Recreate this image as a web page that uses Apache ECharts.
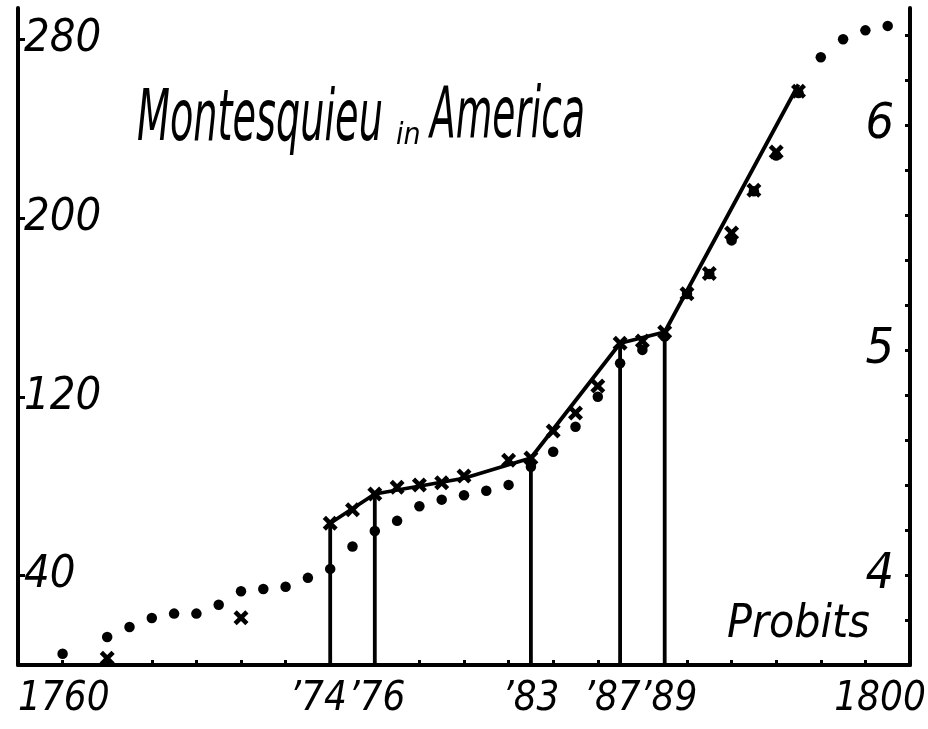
<!DOCTYPE html>
<html>
<head>
<meta charset="utf-8">
<script src="https://cdn.jsdelivr.net/npm/echarts@6/dist/echarts.min.js"></script>
<style>
html,body{margin:0;padding:0;background:#fff;}
#chart{width:928px;height:729px;}
</style>
</head>
<body>
<div id="chart"></div>
<script>
// ---- data ----
const dotYears  = [1762,1764,1765,1766,1767,1768,1769,1770,1771,1772,1773,1774,1775,1776,1777,1778,1779,1780,1781,1782,1783,1784,1785,1786,1787,1788,1789,1790,1791,1792,1793,1794,1795,1796,1797,1798,1799];
const dotValues = [5,12.5,17,21,23,23,27,33,34,35,39,43,53,60,64.5,71,74,76,78,80.6,88.7,95.4,106.6,120,135,141,147,166,175,190,212,228,256,272,280,284,286];

const crossYears  = [1764,1770,1774,1775,1776,1777,1778,1779,1780,1782,1783,1784,1785,1786,1787,1788,1789,1790,1791,1792,1793,1794,1795];
const crossProbit = [3.63,3.81,4.23,4.29,4.36,4.39,4.40,4.41,4.44,4.51,4.52,4.64,4.72,4.84,5.03,5.04,5.08,5.25,5.34,5.52,5.71,5.88,6.15];

const fitYears  = [1774,1776,1780,1783,1787,1789,1795];
const fitProbit = [4.23,4.36,4.43,4.52,5.03,5.08,6.18];

const markYears  = [1774,1776,1783,1787,1789];
const markProbit = [4.23,4.36,4.52,5.03,5.08];

const xLabelValues = [1760,1774,1776,1783,1787,1789,1800];
const xTickValues  = [1762,1764,1766,1768,1770,1772,1778,1780,1782,1784,1786,1790,1792,1794,1796,1798];
const leftLabelValues  = [40,120,200,280];
const rightLabelValues = [4,5,6];
const rightTickValues  = [3.8,4.0,4.2,4.4,4.6,4.8,5.0,5.2,5.4,5.6,5.8,6.0,6.2,6.4];

const titleMain = 'Montesquieu';
const titleIn = 'in';
const titleEnd = 'America';
const probitsText = 'Probits';

// ---- chart ----
const FONT = '"Liberation Sans Narrow", "DejaVu Sans Condensed", "Liberation Sans", sans-serif';
const INK = '#000';
const chart = echarts.init(document.getElementById('chart'), null, {renderer:'canvas'});

const xPath = 'path://M0,3 L3,0 L7,4 L11,0 L14,3 L10,7 L14,11 L11,14 L7,10 L3,14 L0,11 L4,7 Z';

const series = [];
markYears.forEach((yr, i) => {
  series.push({
    type: 'line', xAxisIndex: 0, yAxisIndex: 1,
    data: [[yr, 3.6], [yr, markProbit[i]]],
    symbol: 'none', silent: true, z: 2,
    lineStyle: {color: INK, width: 3.8}
  });
});
series.push({
  type: 'line', yAxisIndex: 1,
  data: fitYears.map((y, i) => [y, fitProbit[i]]),
  symbol: 'none', z: 3,
  lineStyle: {color: INK, width: 3.8}
});
series.push({
  type: 'scatter', yAxisIndex: 0,
  data: dotYears.map((y, i) => [y, dotValues[i]]),
  symbol: 'circle', symbolSize: 10.5, z: 4,
  itemStyle: {color: INK, opacity: 1}
});
series.push({
  type: 'scatter', yAxisIndex: 1,
  data: crossYears.map((y, i) => [y, crossProbit[i]]),
  symbol: xPath, symbolSize: 15, z: 5,
  itemStyle: {color: INK, opacity: 1}
});

const labelStyle = {color: INK, fontFamily: FONT, fontStyle: 'italic', fontWeight: 'normal', fontSize: 40};

const xShift = {1774: [0, 24, 0, 0], 1776: [0, 0, 0, 4], 1787: [0, 16, 0, 0], 1789: [0, 0, 0, 8], 1800: [0, 60, 0, 0]};
const xRich = {};
Object.keys(xShift).forEach(k => { xRich['s' + k] = {padding: xShift[k]}; });

chart.setOption({
  backgroundColor: '#fff',
  animation: false,
  graphic: [
    {type: 'text', x: 137, y: 121, scaleX: 0.59, silent: true,
     style: {text: titleMain, font: 'italic 72px ' + FONT, fill: INK, verticalAlign: 'middle'}},
    {type: 'text', x: 396, y: 136, silent: true,
     style: {text: titleIn, font: 'italic 30px ' + FONT, fill: INK, verticalAlign: 'middle'}},
    {type: 'text', x: 430, y: 118, scaleX: 0.58, silent: true,
     style: {text: titleEnd, font: 'italic 72px ' + FONT, fill: INK, verticalAlign: 'middle'}},
    {type: 'text', x: 727, y: 625, silent: true,
     style: {text: probitsText, font: 'italic 46px ' + FONT, fill: INK, verticalAlign: 'middle'}}
  ],
  grid: {left: 18, right: 18, top: 8, bottom: 64, containLabel: false, outerBoundsMode: 'none'},
  xAxis: {
    type: 'value', min: 1760, max: 1800,
    splitLine: {show: false},
    axisLine: {show: true, onZero: false, lineStyle: {color: INK, width: 4}},
    axisTick: {show: true, inside: true, length: 5, customValues: xTickValues, lineStyle: {color: INK, width: 3}},
    axisLabel: Object.assign({}, labelStyle, {
      customValues: xLabelValues, margin: 15,
      alignMinLabel: 'left', alignMaxLabel: 'center',
      rich: xRich,
      formatter: v => {
        const t = (v === 1760 || v === 1800) ? String(v) : '\u2019' + String(v).slice(2);
        return xShift[v] ? '{s' + v + '|' + t + '}' : t;
      }
    })
  },
  yAxis: [{
    type: 'value', position: 'left', min: 0, max: 294,
    splitLine: {show: false},
    axisLine: {show: true, onZero: false, lineStyle: {color: INK, width: 4}},
    axisTick: {show: true, inside: true, length: 7, customValues: leftLabelValues, lineStyle: {color: INK, width: 3}},
    axisLabel: Object.assign({}, labelStyle, {inside: true, margin: 6, customValues: leftLabelValues, fontSize: 45})
  }, {
    type: 'value', position: 'right', min: 3.6, max: 6.52,
    splitLine: {show: false},
    axisLine: {show: true, onZero: false, lineStyle: {color: INK, width: 4}},
    axisTick: {show: true, inside: true, length: 5, customValues: rightTickValues, lineStyle: {color: INK, width: 3}},
    axisLabel: Object.assign({}, labelStyle, {inside: true, margin: 16, customValues: rightLabelValues, fontSize: 50,
      formatter: v => String(Math.round(v))})
  }],
  series: series
});
</script>
</body>
</html>
